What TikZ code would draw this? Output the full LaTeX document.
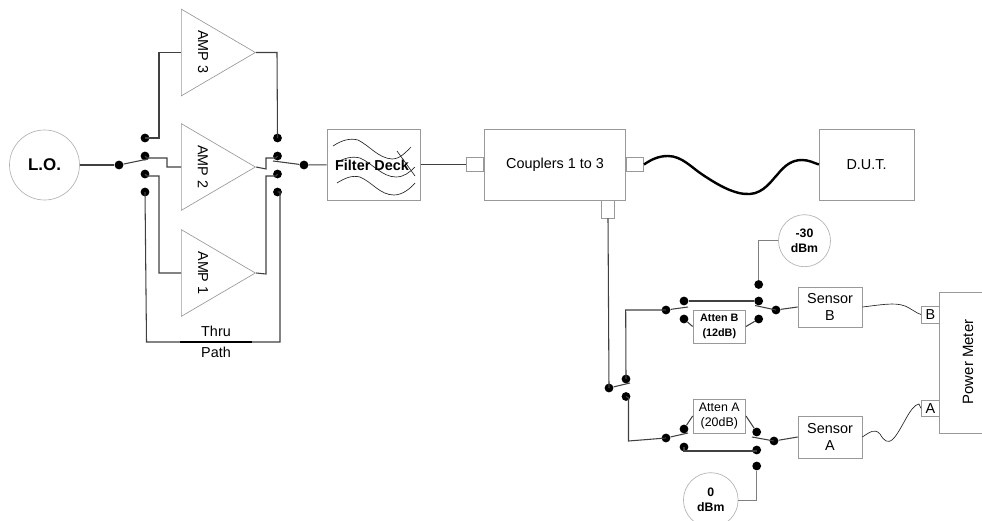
\documentclass[tikz,border=0pt]{standalone}
\usepackage{fontspec}
\setmainfont{Liberation Sans}
\usetikzlibrary{positioning, shapes.geometric}

\begin{document}
\begin{tikzpicture}[
        x=0.75pt, y=-0.75pt,
        node distance=13.5pt,
        every node/.style={font=\fontsize{10.8}{13}\selectfont},
        contact/.style={circle, fill=black, inner sep=0pt, minimum size=6.6pt},
        unit/.style={rectangle, draw=black!40, line width=0.5pt, inner sep=0pt, align=center},
        source/.style={circle, draw=black!30, line width=0.5pt, inner sep=0pt, align=center},
        amp/.style={isosceles triangle, isosceles triangle stretches, draw=black!40,
            line width=0.5pt, inner sep=0pt, minimum width=65pt, minimum height=55.5pt, anchor=lower side},
        wire/.style={draw=black!75, line width=0.8pt},
        cable/.style={draw=black!85, line width=0.5pt},
        small/.style={font=\fontsize{9.3}{11.5}\selectfont},
        smallbold/.style={font=\fontsize{8.1}{11}\selectfont\bfseries},
        dbm/.style={font=\fontsize{9.2}{11.5}\selectfont\bfseries}
    ]
    \useasboundingbox (0,0) rectangle (982,521);

    %% ---- Source and amplifiers ----
    \node[source, minimum size=52.5pt, font=\fontsize{12.7}{15}\selectfont\bfseries] (lo) at (44.5,165) {L.O.};
    \node[amp] (amp3) at (181,52.5) {};
    \node[amp] (amp2) at (181,167) {};
    \node[amp] (amp1) at (181,273) {};
    \node[rotate=-90] (amp3text) at (203,52) {AMP 3};
    \node[rotate=-90] (amp2text) at (203,167) {AMP 2};
    \node[rotate=-90] (amp1text) at (203,273) {AMP 1};

    %% ---- Input switch ----
    \node[contact] (inpivot) at (119,165) {};
    \node[contact] (in3) at (145,138) {};
    \node[contact, below of=in3] (in2) {};
    \node[contact, below of=in2] (in1) {};
    \node[contact, below of=in1] (inthru) {};
    \coordinate (inarm) at (148,159);
    \draw[wire] (lo) -- (inpivot);
    \draw[wire] (inpivot) -- (inarm);

    %% ---- Output switch ----
    \node[contact] (outpivot) at (304,165) {};
    \node[contact] (out3) at (277.5,138) {};
    \node[contact, below of=out3] (out2) {};
    \node[contact, below of=out2] (out1) {};
    \node[contact, below of=out1] (outthru) {};
    \coordinate (outarm) at (273,161);
    \draw[wire] (outpivot) -- (outarm);

    %% ---- Amplifier wiring ----
    \draw[wire] (in3.center) -- (159,138) |- (amp3.lower side);
    \draw[wire] (in2.center) -- (147,158) -- (167,158) |- (amp2.lower side);
    \draw[wire] (in1.center) -- (147,176) -- (159,176) |- (amp1.lower side);
    \draw[wire] (amp3.apex) -- (277,52.5) -- (out3.center);
    \draw[wire] (amp2.apex) -- (266,169) -- (266,158) -- (276,158) -- (out2.center);
    \draw[wire] (amp1.apex) -- (266,274) -- (266,176) -- (276,176) -- (out1.center);

    %% ---- Thru path ----
    \node (thru) at (216,331) {Thru};
    \node (path) at (216,352) {Path};
    \draw[wire] (inthru.center) -- (146.5,342) -- (280,342) -- (280,192) -- (outthru.center);
    \draw[line width=1.7pt] (180,342) -- (252,342);

    %% ---- Filter deck ----
    \node[unit, minimum width=70pt, minimum height=53pt] (filter) at (373.5,164.5) {};
    \draw[cable] (333,146) .. controls (342,140) and (350,138) .. (358,140)
        .. controls (370,146) and (378,158) .. (392,159) .. controls (400,159) and (406,152) .. (411,147);
    \draw[cable] (336,163) .. controls (344,158) and (352,156) .. (360,158)
        .. controls (372,163) and (382,177) .. (396,177) .. controls (404,177) and (410,172) .. (415,167);
    \draw[cable] (337,183) .. controls (345,178) and (352,175) .. (360,177)
        .. controls (372,182) and (380,195) .. (394,195) .. controls (402,195) and (410,189) .. (415,183);
    \draw[cable] (397,151) -- (415,176);
    \node[font=\fontsize{10.8}{13}\selectfont\bfseries] (filtertext) at (372,165) {Filter Deck};
    \draw[wire] (outpivot) -- (filter);

    %% ---- Couplers and D.U.T. ----
    \node[unit, minimum width=106pt, minimum height=53pt] (couplers) at (555,164.5) {Couplers 1 to 3};
    \node[unit, minimum width=13pt, minimum height=10.5pt, left=0pt of couplers] (portin) {};
    \node[unit, minimum width=13pt, minimum height=10.5pt, right=0pt of couplers] (portout) {};
    \node[unit, minimum width=9.5pt, minimum height=13.5pt] (portcal) at (608,209) {};
    \node[unit, minimum width=71pt, minimum height=53pt] (dut) at (866.5,164.5) {D.U.T.};
    \draw[wire] (filter) -- (portin);
    \draw[line width=1.8pt] (portout.east) .. controls (652,159) and (659,156) .. (668,156)
        .. controls (682,156) and (692,168) .. (703,175)
        .. controls (718,185) and (735,195) .. (750,194)
        .. controls (764,193) and (772,180) .. (777,175)
        .. controls (785,165) and (792,160) .. (802,160)
        .. controls (809,160) and (814,163) .. (dut.west);

    %% ---- Sensor selector ----
    \node[contact] (selpivot) at (609,388) {};
    \node[contact] (selb) at (626,379) {};
    \node[contact] (sela) at (626,396.5) {};
    \coordinate (selarm) at (630,383);
    \draw[wire] (portcal.south) -- (selpivot.center);
    \draw[wire] (selpivot) -- (selarm);

    %% ---- Channel B ----
    \node[contact] (bpivot) at (666,310) {};
    \node[contact] (bthru) at (684,301) {};
    \node[contact] (batt) at (684,319) {};
    \node[contact] (bcal) at (758.7,284.5) {};
    \node[contact] (bthruout) at (758.7,301) {};
    \node[contact] (battout) at (758.7,319) {};
    \node[contact] (bsens) at (776,310) {};
    \coordinate (barmin) at (688,307);
    \coordinate (barmout) at (755,305.5);
    \node[unit, smallbold, minimum width=39.5pt, minimum height=25pt] (attenb) at (719.3,326.5) {Atten B\\(12dB)};
    \node[unit, minimum width=48pt, minimum height=30pt] (sensorb) at (830,307) {Sensor\\B};
    \node[source, dbm, minimum size=39pt] (cal30) at (804.5,240.7) {-30\\dBm};
    \draw[wire] (selb.center) -- (625.7,310) -- (bpivot.center);
    \draw[wire] (bpivot) -- (barmin);
    \draw[wire] (bthru) -- (bthruout);
    \draw[wire] (batt) -- (attenb.west);
    \draw[wire] (battout) -- (attenb.east);
    \draw[wire] (barmout) -- (bsens.center);
    \draw[wire] (bsens) -- (sensorb.west);
    \draw[draw=black!50, line width=0.5pt] (cal30) -| (bcal);

    %% ---- Channel A ----
    \node[contact] (apivot) at (666,438) {};
    \node[contact] (aatt) at (684,429) {};
    \node[contact] (athru) at (684,447) {};
    \node[contact] (aattout) at (756.7,432) {};
    \node[contact] (athruout) at (756.7,450) {};
    \node[contact] (acal) at (756.7,466) {};
    \node[contact] (asens) at (774,441) {};
    \coordinate (aarmin) at (688,433);
    \coordinate (aarmout) at (752,437);
    \node[unit, small, minimum width=39.5pt, minimum height=25.5pt] (attena) at (719.3,416) {Atten A\\(20dB)};
    \node[unit, minimum width=48pt, minimum height=31.5pt] (sensora) at (830,437) {Sensor\\A};
    \node[source, dbm, minimum size=41pt] (cal0) at (710.8,500) {0\\dBm};
    \draw[wire] (sela.center) -- (628.5,398) -- (628.5,441) -- (apivot.center);
    \draw[wire] (apivot) -- (aarmin);
    \draw[wire] (aatt) -- (attena.west);
    \draw[wire] (aattout) -- (attena.east);
    \draw[wire] (athru.center) -- (684,451) -- (756.7,451);
    \draw[wire] (aarmout) -- (asens.center);
    \draw[wire] (asens) -- (sensora.west);
    \draw[draw=black!50, line width=0.5pt] (cal0) -| (acal);

    %% ---- Power meter ----
    \draw[draw=black!40, line width=0.5pt] (982,292.7) -- (939.3,292.7) -- (939.3,433.3) -- (982,433.3);
    \coordinate (meter) at (939.3,360);
    \node[unit, minimum width=13.5pt, minimum height=13pt] (inb) at (930.3,314.5) {B};
    \node[unit, minimum width=13.5pt, minimum height=11.5pt] (ina) at (930.3,408.3) {A};
    \node[rotate=90, font=\fontsize{11.2}{13}\selectfont] (metertext) at (968,362) {Power Meter};
    \draw[cable] (sensorb.east) .. controls (880,305) and (895,302) .. (905,306) .. controls (912,309) and (916,313) .. (inb.west);
    \draw[cable] (sensora.east) .. controls (870,432) and (875,428) .. (880,434)
        .. controls (884,441) and (888,444) .. (893,439) .. controls (902,430) and (910,405) .. (919,404) -- (ina.west);
\end{tikzpicture}
\end{document}
